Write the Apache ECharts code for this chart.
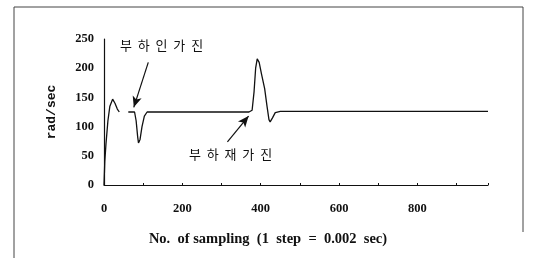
<!DOCTYPE html>
<html>
<head>
<meta charset="utf-8">
<script src="https://cdn.jsdelivr.net/npm/echarts@6/dist/echarts.min.js"></script>
<style>
  html, body { margin: 0; padding: 0; background: #fff; }
  #chart { width: 533px; height: 258px; }
</style>
</head>
<body>
<div id="chart"></div>
<script>
// 샘플 번호 (x) 와 속도 rad/sec (y)
const samples = [0, 2, 5, 10, 15, 22, 28, 34, 39, 50, 62, 70, 78, 82, 86, 88, 92, 97, 103, 110, 200, 300, 370, 378, 383, 387, 391, 396, 402, 410, 416, 421, 424, 430, 437, 450, 600, 800, 980];
const speed   = [0, 40, 70, 110, 135, 147, 140, 130, 125, null, 125, 125, 125, 110, 82, 72, 78, 100, 118, 125, 125, 125, 125, 128, 160, 200, 216, 210, 190, 165, 135, 112, 108, 115, 124, 126, 126, 126, 126];
const xTicks = [0, 200, 400, 600, 800];
const yTicks = [0, 50, 100, 150, 200, 250];

const lineData = samples.map((x, i) => [x, speed[i]]);

const chart = echarts.init(document.getElementById('chart'));
const serif = '"Liberation Serif", "DejaVu Serif", serif';

chart.setOption({
  animation: false,
  grid: { left: 104, right: 45, top: 39, bottom: 73 },
  xAxis: {
    type: 'value',
    min: 0,
    max: 980,
    interval: 200,
    name: 'No.  of sampling  (1  step  =  0.002  sec)',
    nameLocation: 'middle',
    nameGap: 47,
    nameTextStyle: { fontFamily: serif, fontWeight: 'bold', fontSize: 14.5, color: '#111', padding: [0, 56, 0, 0] },
    axisLine: { lineStyle: { color: '#111', width: 1.2 } },
    axisTick: { show: true, inside: true, length: 2, lineStyle: { color: '#111' } },
    minorTick: { show: true, splitNumber: 2, length: 2, lineStyle: { color: '#111' } },
    splitLine: { show: false },
    axisLabel: {
      fontFamily: serif, fontSize: 12.5, fontWeight: 'bold', color: '#111', margin: 17,
      formatter: v => (xTicks.includes(v) ? String(v) : '')
    }
  },
  yAxis: {
    type: 'value',
    min: 0,
    max: 250,
    interval: 50,
    name: 'rad/sec',
    nameLocation: 'middle',
    nameGap: 46,
    nameRotate: 90,
    nameTextStyle: { fontFamily: '"Liberation Mono", "DejaVu Sans Mono", monospace', fontWeight: 'bold', fontSize: 13, color: '#111' },
    axisLine: { show: true, lineStyle: { color: '#111', width: 1.2 } },
    axisTick: { show: false },
    splitLine: { show: false },
    axisLabel: {
      fontFamily: serif, fontSize: 12.5, fontWeight: 'bold', color: '#111', margin: 10,
      formatter: v => (yTicks.includes(v) ? String(v) : '')
    }
  },
  series: [{
    type: 'line',
    data: lineData,
    showSymbol: false,
    connectNulls: false,
    lineStyle: { color: '#111', width: 1.3 },
    markLine: {
      silent: true,
      symbol: ['none', 'arrow'],
      symbolSize: [7, 11],
      label: { show: false },
      lineStyle: { color: '#111', type: 'solid', width: 1.2 },
      data: [
        [{ coord: [113, 210] }, { coord: [76, 133] }],
        [{ coord: [315, 74] }, { coord: [369, 118] }]
      ]
    }
  }],
  graphic: [
    {
      type: 'polyline',
      shape: { points: [[14, 258], [14, 7], [523, 7], [523, 232]] },
      style: { stroke: '#444', lineWidth: 1, fill: null }
    },
    {
      type: 'text', left: 120, top: 39,
      style: { text: '부  하  인  가  진', font: '13px "Noto Sans CJK KR"', fill: '#111' }
    },
    {
      type: 'text', left: 189, top: 148,
      style: { text: '부  하  재  가  진', font: '13px "Noto Sans CJK KR"', fill: '#111' }
    }
  ]
});
</script>
</body>
</html>
